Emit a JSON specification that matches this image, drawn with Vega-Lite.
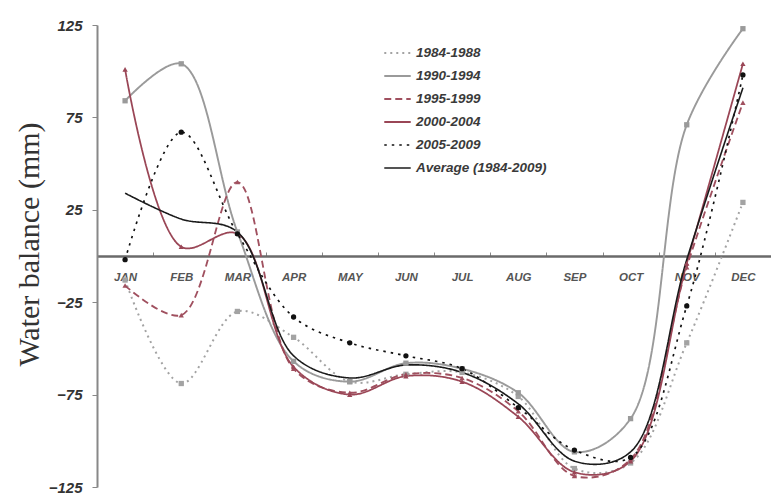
{
  "$schema": "https://vega.github.io/schema/vega-lite/v6.json",
  "autosize": {"type": "none"},
  "padding": {"left": 97, "top": 25, "right": 0, "bottom": 12},
  "width": 674,
  "height": 462,
  "background": "white",
  "config": {
    "view": {"stroke": null}
  },
  "data": {"values": [
    {"month": "JAN", "series": "1984-1988", "value": -13},
    {"month": "FEB", "series": "1984-1988", "value": -69},
    {"month": "MAR", "series": "1984-1988", "value": -30},
    {"month": "APR", "series": "1984-1988", "value": -44},
    {"month": "MAY", "series": "1984-1988", "value": -68},
    {"month": "JUN", "series": "1984-1988", "value": -64},
    {"month": "JUL", "series": "1984-1988", "value": -63},
    {"month": "AUG", "series": "1984-1988", "value": -76},
    {"month": "SEP", "series": "1984-1988", "value": -115},
    {"month": "OCT", "series": "1984-1988", "value": -112},
    {"month": "NOV", "series": "1984-1988", "value": -47},
    {"month": "DEC", "series": "1984-1988", "value": 29},
    {"month": "JAN", "series": "1990-1994", "value": 84},
    {"month": "FEB", "series": "1990-1994", "value": 104},
    {"month": "MAR", "series": "1990-1994", "value": 13},
    {"month": "APR", "series": "1990-1994", "value": -57},
    {"month": "MAY", "series": "1990-1994", "value": -68},
    {"month": "JUN", "series": "1990-1994", "value": -58},
    {"month": "JUL", "series": "1990-1994", "value": -61},
    {"month": "AUG", "series": "1990-1994", "value": -74},
    {"month": "SEP", "series": "1990-1994", "value": -106},
    {"month": "OCT", "series": "1990-1994", "value": -88},
    {"month": "NOV", "series": "1990-1994", "value": 71},
    {"month": "DEC", "series": "1990-1994", "value": 123},
    {"month": "JAN", "series": "1995-1999", "value": -16},
    {"month": "FEB", "series": "1995-1999", "value": -32},
    {"month": "MAR", "series": "1995-1999", "value": 40},
    {"month": "APR", "series": "1995-1999", "value": -61},
    {"month": "MAY", "series": "1995-1999", "value": -74},
    {"month": "JUN", "series": "1995-1999", "value": -64},
    {"month": "JUL", "series": "1995-1999", "value": -66},
    {"month": "AUG", "series": "1995-1999", "value": -84},
    {"month": "SEP", "series": "1995-1999", "value": -119},
    {"month": "OCT", "series": "1995-1999", "value": -110},
    {"month": "NOV", "series": "1995-1999", "value": -6},
    {"month": "DEC", "series": "1995-1999", "value": 83},
    {"month": "JAN", "series": "2000-2004", "value": 101},
    {"month": "FEB", "series": "2000-2004", "value": 5},
    {"month": "MAR", "series": "2000-2004", "value": 12},
    {"month": "APR", "series": "2000-2004", "value": -60},
    {"month": "MAY", "series": "2000-2004", "value": -75},
    {"month": "JUN", "series": "2000-2004", "value": -65},
    {"month": "JUL", "series": "2000-2004", "value": -68},
    {"month": "AUG", "series": "2000-2004", "value": -87},
    {"month": "SEP", "series": "2000-2004", "value": -117},
    {"month": "OCT", "series": "2000-2004", "value": -111},
    {"month": "NOV", "series": "2000-2004", "value": -4},
    {"month": "DEC", "series": "2000-2004", "value": 104},
    {"month": "JAN", "series": "2005-2009", "value": -2},
    {"month": "FEB", "series": "2005-2009", "value": 67},
    {"month": "MAR", "series": "2005-2009", "value": 12},
    {"month": "APR", "series": "2005-2009", "value": -33},
    {"month": "MAY", "series": "2005-2009", "value": -47},
    {"month": "JUN", "series": "2005-2009", "value": -54},
    {"month": "JUL", "series": "2005-2009", "value": -61},
    {"month": "AUG", "series": "2005-2009", "value": -82},
    {"month": "SEP", "series": "2005-2009", "value": -105},
    {"month": "OCT", "series": "2005-2009", "value": -109},
    {"month": "NOV", "series": "2005-2009", "value": -27},
    {"month": "DEC", "series": "2005-2009", "value": 98},
    {"month": "JAN", "series": "Average (1984-2009)", "value": 34},
    {"month": "FEB", "series": "Average (1984-2009)", "value": 20},
    {"month": "MAR", "series": "Average (1984-2009)", "value": 13},
    {"month": "APR", "series": "Average (1984-2009)", "value": -54},
    {"month": "MAY", "series": "Average (1984-2009)", "value": -66},
    {"month": "JUN", "series": "Average (1984-2009)", "value": -59},
    {"month": "JUL", "series": "Average (1984-2009)", "value": -63},
    {"month": "AUG", "series": "Average (1984-2009)", "value": -80},
    {"month": "SEP", "series": "Average (1984-2009)", "value": -111},
    {"month": "OCT", "series": "Average (1984-2009)", "value": -106},
    {"month": "NOV", "series": "Average (1984-2009)", "value": -2},
    {"month": "DEC", "series": "Average (1984-2009)", "value": 91}
  ]},
  "encoding": {
    "x": {
      "field": "month",
      "type": "ordinal",
      "sort": ["JAN","FEB","MAR","APR","MAY","JUN","JUL","AUG","SEP","OCT","NOV","DEC"],
      "scale": {"type": "band", "paddingInner": 0, "paddingOuter": 0},
      "axis": {
        "orient": "bottom",
        "offset": -231,
        "title": null,
        "labelAngle": 0,
        "tickBand": "extent",
        "tickSize": -4,
        "tickColor": "#888",
        "domainColor": "#6a6a6a",
        "domainWidth": 2.5,
        "labelFont": "Liberation Sans",
        "labelFontSize": 11.5,
        "labelFontStyle": "italic",
        "labelFontWeight": "bold",
        "labelColor": "#555",
        "labelPadding": 19
      }
    },
    "y": {
      "field": "value",
      "type": "quantitative",
      "scale": {"domain": [-125, 125], "nice": false, "zero": false},
      "axis": {
        "values": [-125, -75, -25, 25, 75, 125],
        "grid": false,
        "domainColor": "#888",
        "domainWidth": 2,
        "tickColor": "#888",
        "tickSize": 5,
        "labelFont": "Liberation Sans",
        "labelFontSize": 15,
        "labelFontStyle": "italic",
        "labelFontWeight": "bold",
        "labelColor": "#333",
        "labelPadding": 10,
        "title": "Water balance (mm)",
        "titleFont": "Liberation Serif",
        "titleFontSize": 30,
        "titleFontWeight": "normal",
        "titleColor": "#333",
        "titlePadding": 4,
        "titleY": 219
      }
    }
  },
  "layer": [
    {
      "mark": {"type": "line", "interpolate": "catmull-rom"},
      "encoding": {
        "color": {
          "field": "series",
          "type": "nominal",
          "scale": {
            "domain": ["1984-1988","1990-1994","1995-1999","2000-2004","2005-2009","Average (1984-2009)"],
            "range": ["#a3a3a3","#9a9a9a","#a0505f","#9a4656","#111111","#1a1a1a"]
          },
          "legend": {
            "orient": "none",
            "legendX": 286,
            "legendY": 19,
            "title": null,
            "symbolType": "stroke",
            "symbolSize": 700,
            "clipHeight": 18,
            "rowPadding": 5,
            "labelFont": "Liberation Sans",
            "labelFontSize": 13.5,
            "labelFontStyle": "italic",
            "labelFontWeight": "bold",
            "labelColor": "#3a3a3a",
            "labelOffset": 4,
            "padding": 0
          }
        },
        "strokeDash": {
          "field": "series",
          "type": "nominal",
          "scale": {
            "domain": ["1984-1988","1990-1994","1995-1999","2000-2004","2005-2009","Average (1984-2009)"],
            "range": [[2,4],[1,0],[7,4],[1,0],[2.5,5],[1,0]]
          }
        },
        "strokeWidth": {
          "field": "series",
          "type": "nominal",
          "scale": {
            "domain": ["1984-1988","1990-1994","1995-1999","2000-2004","2005-2009","Average (1984-2009)"],
            "range": [2, 1.6, 1.6, 1.6, 2.5, 2]
          }
        }
      }
    },
    {
      "transform": [{"filter": "datum.series !== 'Average (1984-2009)'"}],
      "mark": {"type": "point", "filled": true, "opacity": 1},
      "encoding": {
        "color": {"field": "series", "type": "nominal"},
        "shape": {
          "field": "series",
          "type": "nominal",
          "scale": {
            "domain": ["1984-1988","1990-1994","1995-1999","2000-2004","2005-2009"],
            "range": ["square","square","triangle-up","triangle-up","circle"]
          },
          "legend": null
        },
        "size": {
          "field": "series",
          "type": "nominal",
          "scale": {
            "domain": ["1984-1988","1990-1994","1995-1999","2000-2004","2005-2009"],
            "range": [28, 28, 26, 26, 50]
          },
          "legend": null
        }
      }
    }
  ]
}
